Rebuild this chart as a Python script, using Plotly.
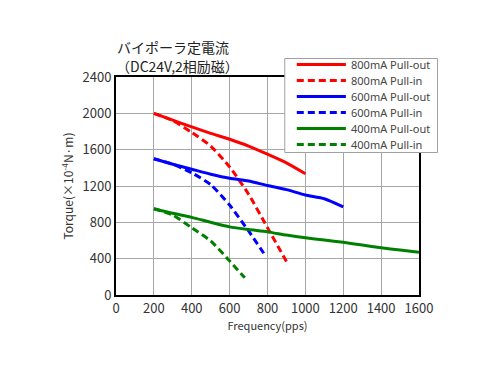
import plotly.graph_objects as go

freq_800_out = [200, 300, 400, 500, 600, 700, 800, 900, 1000]
torque_800_out = [2000, 1925, 1850, 1780, 1715, 1640, 1550, 1455, 1335]
freq_800_in = [200, 300, 400, 500, 600, 700, 800, 900]
torque_800_in = [2000, 1920, 1790, 1640, 1410, 1110, 740, 370]

freq_600_out = [200, 300, 400, 500, 600, 700, 800, 900, 1000, 1100, 1200]
torque_600_out = [1500, 1440, 1385, 1330, 1285, 1255, 1205, 1160, 1100, 1060, 970]
freq_600_in = [200, 300, 400, 500, 600, 700, 790]
torque_600_in = [1500, 1440, 1345, 1215, 990, 705, 430]

freq_400_out = [200, 300, 400, 500, 600, 700, 800, 900, 1000, 1100, 1200, 1300, 1400, 1500, 1600]
torque_400_out = [950, 900, 855, 800, 750, 720, 695, 660, 630, 605, 580, 550, 520, 495, 470]
freq_400_in = [200, 300, 400, 500, 600, 680]
torque_400_in = [950, 880, 740, 595, 375, 190]

x_ticks = [0, 200, 400, 600, 800, 1000, 1200, 1400, 1600]
y_ticks = [0, 400, 800, 1200, 1600, 2000, 2400]

series_names = ["800mA Pull-out", "800mA Pull-in", "600mA Pull-out",
                "600mA Pull-in", "400mA Pull-out", "400mA Pull-in"]
series_x = [freq_800_out, freq_800_in, freq_600_out, freq_600_in, freq_400_out, freq_400_in]
series_y = [torque_800_out, torque_800_in, torque_600_out, torque_600_in, torque_400_out, torque_400_in]
series_colors = ["#ff0000", "#ff0000", "#0000ff", "#0000ff", "#008000", "#008000"]
series_dash = ["solid", "7px,4px", "solid", "7px,4px", "solid", "7px,4px"]

# plot-area geometry in pixels (for converting legend/title positions to paper coords)
PL, PR, PT, PB = 116.5, 419.0, 77.5, 295.5


def px_x(px):
    return (px - PL) / (PR - PL)


def px_y(py):
    return (PB - py) / (PB - PT)


fig = go.Figure()
for name, xs, ys, color, dash in zip(series_names, series_x, series_y, series_colors, series_dash):
    fig.add_trace(go.Scatter(
        x=xs, y=ys, name=name, mode="lines", showlegend=False,
        line=dict(color=color, width=3, dash=dash, shape="spline", smoothing=0.6),
    ))

font_family = "Noto Sans CJK JP, Noto Sans, sans-serif"

fig.update_layout(
    width=500, height=375,
    margin=dict(l=116, r=81, t=77, b=80),
    paper_bgcolor="white", plot_bgcolor="white",
    font=dict(family=font_family, color="#333333", size=12),
    showlegend=False,
    xaxis=dict(
        range=[0, 1600], tickvals=x_ticks, ticktext=[str(v) for v in x_ticks],
        showgrid=True, gridcolor="#a6a6a6", gridwidth=1,
        showline=True, linecolor="black", linewidth=2, mirror=True,
        zeroline=False, ticks="",
        tickfont=dict(size=13, color="#333333"),
        title=dict(text="Frequency(pps)", font=dict(size=11, color="#333333"), standoff=4),
    ),
    yaxis=dict(
        range=[0, 2400], tickvals=y_ticks, ticktext=[str(v) for v in y_ticks],
        showgrid=True, gridcolor="#a6a6a6", gridwidth=1,
        showline=True, linecolor="black", linewidth=2, mirror=True,
        zeroline=False, ticks="",
        tickfont=dict(size=13, color="#333333"),
        title=dict(text="Torque(×10<sup>-4</sup>N·m)", font=dict(size=12, color="#333333"), standoff=6),
    ),
)

# Title (two lines)
fig.add_annotation(
    text="バイポーラ定電流", x=px_x(116), y=px_y(47),
    xref="paper", yref="paper", xanchor="left", yanchor="middle",
    showarrow=False, font=dict(size=14, color="#222222", family=font_family),
)
fig.add_annotation(
    text="（DC24V,2相励磁）", x=px_x(115), y=px_y(66),
    xref="paper", yref="paper", xanchor="left", yanchor="middle",
    showarrow=False, font=dict(size=14, color="#222222", family=font_family),
)

# Legend box
fig.add_shape(
    type="rect", xref="paper", yref="paper",
    x0=px_x(285), x1=px_x(437.5), y0=px_y(153), y1=px_y(59),
    line=dict(color="#a0a0a0", width=1), fillcolor="white", layer="above",
)
row_y = [65, 81, 97, 113, 129, 145]
for name, color, dash, ry in zip(series_names, series_colors, series_dash, row_y):
    fig.add_shape(
        type="line", xref="paper", yref="paper",
        x0=px_x(297), x1=px_x(346), y0=px_y(ry), y1=px_y(ry),
        line=dict(color=color, width=3, dash=dash), layer="above",
    )
    fig.add_annotation(
        text=name, x=px_x(349), y=px_y(ry),
        xref="paper", yref="paper", xanchor="left", yanchor="middle",
        showarrow=False, font=dict(size=11, color="#444444", family="Noto Sans, sans-serif"),
    )

fig.write_html("out.html")
